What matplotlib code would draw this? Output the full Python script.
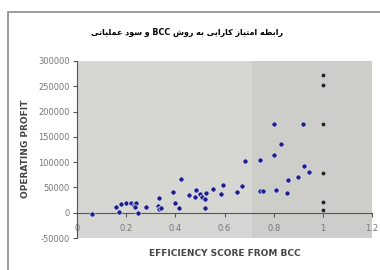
import matplotlib
matplotlib.use('Agg')
import matplotlib.pyplot as plt
from matplotlib.patches import Rectangle

# efficiency score (BCC) vs operating profit
eff = [0.06, 0.16, 0.17, 0.18, 0.20, 0.22, 0.23, 0.24, 0.235, 0.25,
       0.28, 0.335, 0.33, 0.335, 0.34, 0.39, 0.40, 0.415, 0.425, 0.455,
       0.485, 0.48, 0.50, 0.51, 0.525, 0.52, 0.52, 0.555, 0.595, 0.585,
       0.65, 0.67, 0.685, 0.745, 0.745, 0.755, 0.80, 0.80, 0.83, 0.81,
       0.855, 0.86, 0.90, 0.92, 0.925, 0.945]
profit = [-2000, 12000, 1500, 17000, 20000, 20000, 15000, 19000, 11000, -1000,
          11000, 29000, 14000, 7000, 10000, 40000, 19000, 9000, 67000, 35000,
          45000, 32000, 37000, 32000, 39000, 27000, 10000, 47000, 54000, 37000,
          40000, 53000, 102000, 104000, 42000, 43500, 114000, 176000, 135000, 45000,
          39000, 64000, 70000, 176000, 93000, 81000]
eff_full = [1.0, 1.0, 1.0, 1.0, 1.0, 1.0]
profit_full = [272000, 253000, 175000, 78000, 21000, 6000]

xticks = [0, 0.2, 0.4, 0.6, 0.8, 1, 1.2]
xticklabels = ['0', '0.2', '0.4', '0.6', '0.8', '1', '1.2']
yticks = [-50000, 0, 50000, 100000, 150000, 200000, 250000, 300000]

# persian title, shaped by hand (no reshaper available)
FORMS = {
    'ا': ('\uFE8D', '\uFE8E', None, None),
    'ب': ('\uFE8F', '\uFE90', '\uFE91', '\uFE92'),
    'ت': ('\uFE95', '\uFE96', '\uFE97', '\uFE98'),
    'د': ('\uFEA9', '\uFEAA', None, None),
    'ر': ('\uFEAD', '\uFEAE', None, None),
    'ز': ('\uFEAF', '\uFEB0', None, None),
    'س': ('\uFEB1', '\uFEB2', '\uFEB3', '\uFEB4'),
    'ش': ('\uFEB5', '\uFEB6', '\uFEB7', '\uFEB8'),
    'ط': ('\uFEC1', '\uFEC2', '\uFEC3', '\uFEC4'),
    'ع': ('\uFEC9', '\uFECA', '\uFECB', '\uFECC'),
    'ل': ('\uFEDD', '\uFEDE', '\uFEDF', '\uFEE0'),
    'م': ('\uFEE1', '\uFEE2', '\uFEE3', '\uFEE4'),
    'ه': ('\uFEE9', '\uFEEA', '\uFEEB', '\uFEEC'),
    'و': ('\uFEED', '\uFEEE', None, None),
    'ی': ('\uFBFC', '\uFBFD', '\uFBFE', '\uFBFF'),
    'ک': ('\uFB8E', '\uFB8F', '\uFB90', '\uFB91'),
}


def shape_word(w):
    out = []
    for i, c in enumerate(w):
        f = FORMS[c]
        prev_joins = i > 0 and FORMS[w[i - 1]][2] is not None
        next_ok = i < len(w) - 1 and f[2] is not None
        if prev_joins and next_ok:
            out.append(f[3])
        elif prev_joins:
            out.append(f[1])
        elif next_ok:
            out.append(f[2])
        else:
            out.append(f[0])
    return ''.join(out[::-1])


def rtl(sentence):
    parts = []
    for w in sentence.split(' '):
        parts.append(shape_word(w) if w[0] in FORMS else w)
    return ' '.join(parts[::-1])


title = rtl('رابطه امتیاز کارایی به روش BCC و سود عملیاتی')

fig = plt.figure(figsize=(3.8, 2.7), dpi=100)
fig.patch.set_facecolor('white')
fig.patches.append(Rectangle((8 / 380, -0.1), 1.1, (258 + 27) / 270,
                             transform=fig.transFigure, fill=False,
                             edgecolor='#8c8c8c', linewidth=1.2))

ax = fig.add_axes([77 / 380, 32 / 270, 295 / 380, 177 / 270])
ax.set_facecolor('#d6d6d3')
ax.axvspan(0.71, 1.2, color='#cdcdca', zorder=0, lw=0)

ax.scatter(eff, profit, s=14, color='#1e1e8c', edgecolors='#e8e8f4',
           linewidths=0.5, zorder=3)
ax.scatter(eff_full, profit_full, s=12, color='#262626', edgecolors='#e0e0e0',
           linewidths=0.5, zorder=3)

ax.set_xlim(0, 1.2)
ax.set_ylim(-50000, 300000)
ax.set_xticks(xticks)
ax.set_xticklabels(xticklabels)
ax.set_yticks(yticks)
ax.set_yticklabels([str(v) for v in yticks])

for s in ['top', 'right']:
    ax.spines[s].set_visible(False)
ax.spines['bottom'].set_position(('data', 0))
ax.spines['bottom'].set_color('#555555')
ax.spines['left'].set_color('#555555')
ax.tick_params(axis='both', labelsize=6, colors='#555555', length=3,
               width=0.8, labelcolor='#777777')
ax.tick_params(axis='x', pad=5)
ax.tick_params(axis='y', pad=2)

fig.text(187 / 380, 1 - 32 / 270, title, ha='center', va='center',
         fontsize=5.8, fontweight='bold', family=['DejaVu Sans'])
fig.text(26 / 380, 1 - 149 / 270, 'OPERATING PROFIT', rotation=90,
         ha='center', va='center', fontsize=6.5, fontweight='bold',
         color='#444444')
fig.text(225 / 380, 1 - 254 / 270, 'EFFICIENCY SCORE FROM BCC',
         ha='center', va='center', fontsize=6.5, fontweight='bold',
         color='#444444')

fig.savefig('out.png', dpi=100)
